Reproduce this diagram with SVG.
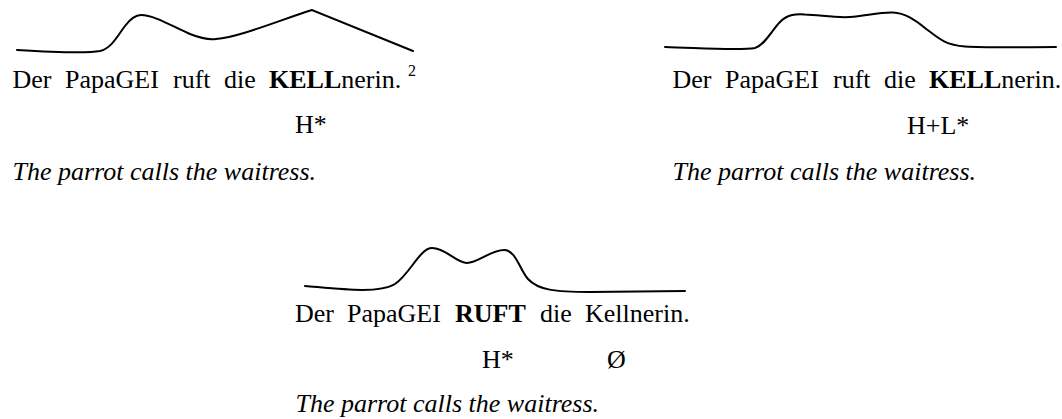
<svg xmlns="http://www.w3.org/2000/svg" width="1062" height="419" viewBox="0 0 1062 419">
<style>
.t{font-family:"Liberation Serif","Times New Roman",serif;font-size:26px;fill:#000}
.b{font-weight:bold}
.i{font-style:italic}
.sup{font-family:"Liberation Serif","Times New Roman",serif;font-size:16px;fill:#000}
.c{fill:none;stroke:#000;stroke-width:2;stroke-linecap:round;stroke-linejoin:miter}
</style>
<rect width="1062" height="419" fill="#fff"/>
<g id="contours">
<path class="c" d="M17,50 C50,52 85,54 100,51 C112,48 118,35 125,26 C131,18 136,15 141,15 C155,15 175,28 190,34 C200,38 208,40 216,39 C240,37 280,20 312,10 L413,51"/>
<path class="c" d="M665,47 C700,48 740,51 755,48 C765,45 772,30 780,22 C788,14 796,14 805,14.5 C820,15 835,18 850,17 C865,16 880,12 893,12.5 C905,13 915,20 925,28 C938,38 945,45 965,46.5 C990,48 1030,47 1056,47"/>
<path class="c" d="M305,286 C340,289 378,294 395,284 C410,274 420,248 432,248 C446,248 456,263 467,263 C478,263 492,249 505,250 C516,251 520,270 528,279 C538,290 555,292 590,292 L685,291"/>
</g>
<g id="panel-left">
<text class="t" y="88"><tspan x="12.5">Der</tspan><tspan x="65">PapaGEI</tspan><tspan x="173">ruft</tspan><tspan x="224">die</tspan><tspan x="269" class="b">KELL</tspan><tspan>nerin.</tspan></text>
<text class="sup" x="408" y="76">2</text>
<text class="t" x="295" y="133">H*</text>
<text class="t i" x="12.5" y="180">The parrot calls the waitress.</text>
</g>
<g id="panel-right">
<text class="t" y="88"><tspan x="672.5">Der</tspan><tspan x="725">PapaGEI</tspan><tspan x="833">ruft</tspan><tspan x="884">die</tspan><tspan x="929" class="b">KELL</tspan><tspan>nerin.</tspan></text>
<text class="t" x="907" y="134">H+L*</text>
<text class="t i" x="672.5" y="180">The parrot calls the waitress.</text>
</g>
<g id="panel-bottom">
<text class="t" y="322"><tspan x="295">Der</tspan><tspan x="347">PapaGEI</tspan><tspan x="455" class="b">RUFT</tspan><tspan x="540">die</tspan><tspan x="585">Kellnerin.</tspan></text>
<text class="t" x="482" y="368">H*</text>
<text class="t" x="607" y="368">Ø</text>
<text class="t i" x="295.5" y="412">The parrot calls the waitress.</text>
</g>
</svg>
